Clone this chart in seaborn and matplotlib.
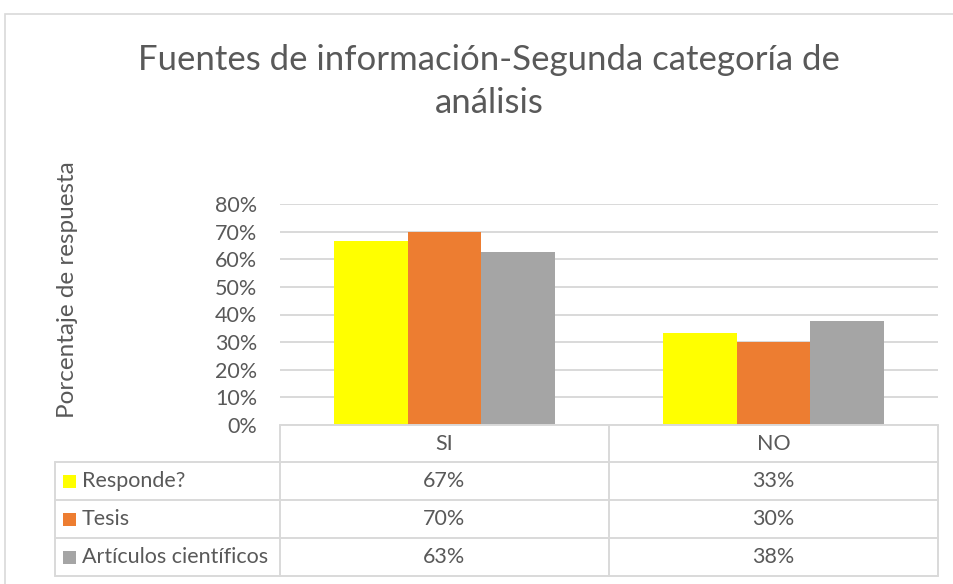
#!/usr/bin/env python3
"""
Fuentes de información - Segunda categoría de análisis
barras agrupadas + tabla de datos (estilo Excel)
"""
import numpy as np
import pandas as pd
import matplotlib.pyplot as plt
import matplotlib.transforms as mtransforms
from matplotlib.lines import Line2D
from matplotlib.patches import Rectangle
from matplotlib.ticker import PercentFormatter
import seaborn as sns

# datos
CATEGORIAS = ['SI', 'NO']
SERIES = ['Responde?', 'Tesis', 'Artículos científicos']
RESPONDE = [0.667, 0.333]
TESIS = [0.70, 0.30]
ARTICULOS = [0.625, 0.375]
Y_TICKS = [0.0, 0.1, 0.2, 0.3, 0.4, 0.5, 0.6, 0.7, 0.8]

COLORES = ['#FFFF00', '#ED7D31', '#A5A5A5']
TEXTO = '#595959'
BORDE = '#D9D9D9'
FS = 15.5

sns.set_theme(style='white')
plt.rcParams['font.family'] = ['Lato', 'DejaVu Sans']

W, H = 954, 584
fig = plt.figure(figsize=(W / 100, H / 100), dpi=100)


def fy(y):
    # pixel (desde arriba) -> fracción de figura
    return 1 - y / H


def fx(x):
    return x / W


ax = fig.add_axes([fx(280), fy(425), fx(938) - fx(280), fy(204) - fy(425)])

df = pd.DataFrame({
    'categoria': CATEGORIAS * 3,
    'serie': np.repeat(SERIES, len(CATEGORIAS)),
    'valor': RESPONDE + TESIS + ARTICULOS,
})

sns.barplot(data=df, x='categoria', y='valor', hue='serie',
            palette=COLORES, saturation=1, width=0.67,
            linewidth=0, legend=False, ax=ax, zorder=3)

ax.set_xlim(-0.5, len(CATEGORIAS) - 0.5)
ax.set_ylim(0, 0.8)
ax.set_yticks(Y_TICKS)
ax.yaxis.set_major_formatter(PercentFormatter(1.0, decimals=0))
ax.tick_params(axis='y', labelsize=FS, colors=TEXTO, length=0, pad=16.5)
ax.set_xticks([])
ax.set_xlabel('')
ax.set_ylabel('')
for s in ax.spines.values():
    s.set_visible(False)
ax.grid(axis='y', color=BORDE, linewidth=1.4, zorder=0)
ax.set_axisbelow(True)

# título y eje
fig.text(fx(489), fy(60), 'Fuentes de información-Segunda categoría de',
         ha='center', va='center', fontsize=25, color=TEXTO)
fig.text(fx(489), fy(103), 'análisis',
         ha='center', va='center', fontsize=25, color=TEXTO)
fig.text(fx(68), fy(290), 'Porcentaje de respuesta', rotation=90,
         ha='center', va='center', fontsize=17.5, color=TEXTO)

# marco del gráfico
fig.add_artist(Rectangle((fx(5), fy(600)), fx(1000), fy(14) - fy(600),
                         transform=fig.transFigure, fill=False,
                         edgecolor=BORDE, linewidth=1.2))

# tabla de datos
trans = mtransforms.blended_transform_factory(ax.transData, fig.transFigure)
x_izq, x_der = -0.5, len(CATEGORIAS) - 0.5
filas = [425, 462, 500, 538, 576]


def linea(xs, ys, tr):
    fig.add_artist(Line2D(xs, ys, transform=tr, color=BORDE, linewidth=1.4))


linea([x_izq, x_der], [fy(filas[0])] * 2, trans)
for y in filas[1:]:
    linea([fx(55), fx(280)], [fy(y)] * 2, fig.transFigure)
    linea([x_izq, x_der], [fy(y)] * 2, trans)
linea([fx(55), fx(55)], [fy(filas[1]), fy(filas[-1])], fig.transFigure)
for i in range(len(CATEGORIAS) + 1):
    linea([i - 0.5, i - 0.5], [fy(filas[0]), fy(filas[-1])], trans)

for i, cat in enumerate(CATEGORIAS):
    fig.text(i, fy((filas[0] + filas[1]) / 2), cat, transform=trans,
             ha='center', va='center', fontsize=FS, color=TEXTO)

valores = [RESPONDE, TESIS, ARTICULOS]
for j, (serie, vals, col) in enumerate(zip(SERIES, valores, COLORES)):
    yc = (filas[j + 1] + filas[j + 2]) / 2
    fig.add_artist(Rectangle((fx(63), fy(yc + 6.5)), fx(13), fy(yc - 6.5) - fy(yc + 6.5),
                             transform=fig.transFigure, facecolor=col,
                             edgecolor='none'))
    fig.text(fx(82), fy(yc), serie, ha='left', va='center',
             fontsize=FS, color=TEXTO)
    for i, v in enumerate(vals):
        fig.text(i, fy(yc), f'{int(v * 100 + 0.5)}%', transform=trans,
                 ha='center', va='center', fontsize=FS, color=TEXTO)

fig.savefig('out.png', dpi=100, facecolor='white')
